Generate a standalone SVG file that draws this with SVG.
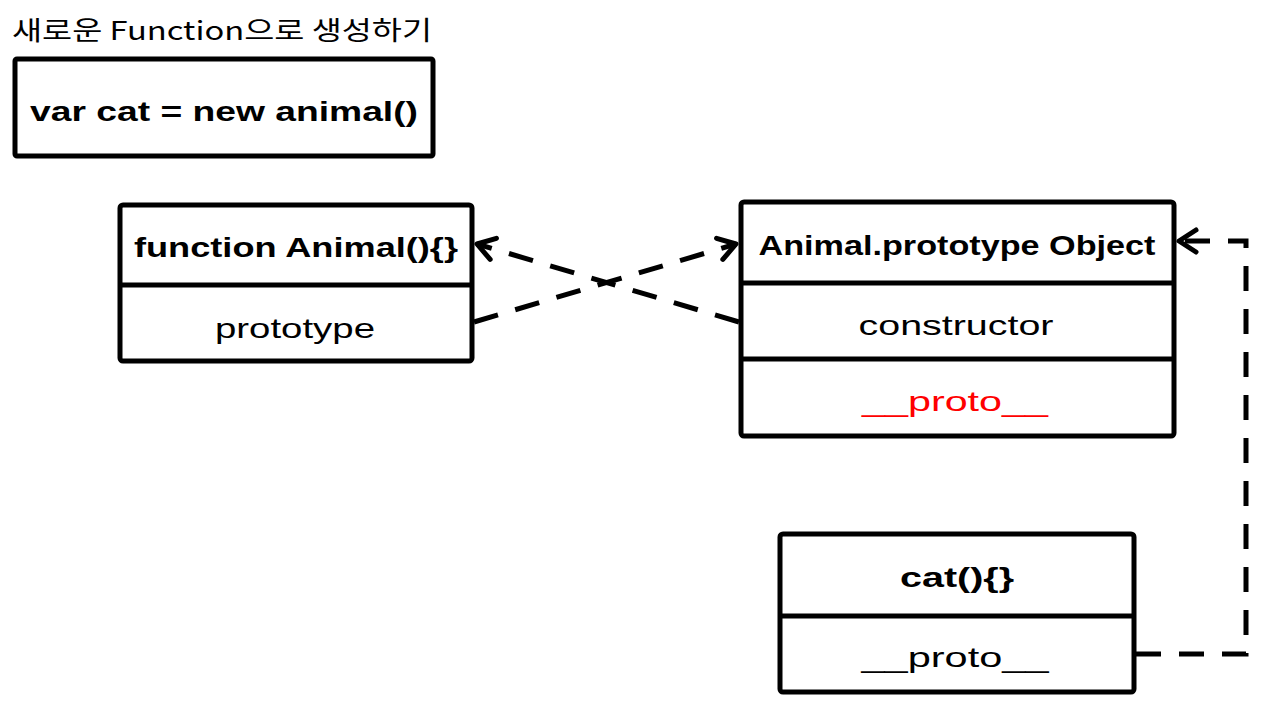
<svg xmlns="http://www.w3.org/2000/svg" width="1277" height="705" viewBox="0 0 1277 705">
<defs>
<style>
.box{fill:#fff;stroke:#000;stroke-width:5;stroke-linejoin:round}
.div{stroke:#000;stroke-width:5}
.t{font-family:"Liberation Sans","Noto Sans CJK KR",sans-serif;fill:#000;text-anchor:middle}
.b{font-weight:bold;font-size:28px}
.n{font-size:28px}
.red{fill:#ff0000}
.conn{fill:none;stroke:#000;stroke-width:5;stroke-dasharray:25 18}
</style>
<marker id="arr" markerUnits="userSpaceOnUse" markerWidth="26" markerHeight="30" viewBox="0 0 26 30" refX="22" refY="15" orient="auto">
<path d="M5,4 L22,15 L5,26" fill="none" stroke="#000" stroke-width="5" stroke-linecap="round" stroke-linejoin="round"/>
</marker>
</defs>
<rect width="1277" height="705" fill="#fff"/>
<text x="12" y="40" font-family="'Noto Sans CJK KR',sans-serif" font-size="26" textLength="420" lengthAdjust="spacingAndGlyphs">새로운 Function으로 생성하기</text>
<g id="code">
<rect class="box" x="15" y="59" width="418" height="97" rx="2"/>
<text class="t b" x="224" y="121" font-size="30" textLength="388" lengthAdjust="spacingAndGlyphs">var cat = new animal()</text>
</g>
<g id="animal">
<rect class="box" x="120" y="205" width="352" height="156" rx="3"/>
<line class="div" x1="120" y1="285" x2="472" y2="285"/>
<text class="t b" x="296" y="257" textLength="324" lengthAdjust="spacingAndGlyphs">function Animal(){}</text>
<text class="t n" x="295" y="338" textLength="160" lengthAdjust="spacingAndGlyphs">prototype</text>
</g>
<g id="proto">
<rect class="box" x="741" y="202" width="433" height="234" rx="3"/>
<line class="div" x1="741" y1="283" x2="1174" y2="283"/>
<line class="div" x1="741" y1="359" x2="1174" y2="359"/>
<text class="t b" x="957" y="255" textLength="397" lengthAdjust="spacingAndGlyphs">Animal.prototype Object</text>
<text class="t n" x="956" y="335" textLength="195" lengthAdjust="spacingAndGlyphs">constructor</text>
<text class="t n red" x="955" y="411" textLength="186" lengthAdjust="spacingAndGlyphs">__proto__</text>
</g>
<g id="cat">
<rect class="box" x="780" y="534" width="354" height="158" rx="3"/>
<line class="div" x1="780" y1="616" x2="1134" y2="616"/>
<text class="t b" x="957" y="587" textLength="114" lengthAdjust="spacingAndGlyphs">cat(){}</text>
<text class="t n" x="955" y="667" textLength="187" lengthAdjust="spacingAndGlyphs">__proto__</text>
</g>
<g id="connectors">
<line class="conn" x1="474" y1="322" x2="736" y2="244" marker-end="url(#arr)"/>
<line class="conn" x1="739" y1="322" x2="477" y2="244" marker-end="url(#arr)"/>
<path class="conn" d="M1136,654 H1246 V241 H1179" marker-end="url(#arr)"/>
</g>
</svg>
